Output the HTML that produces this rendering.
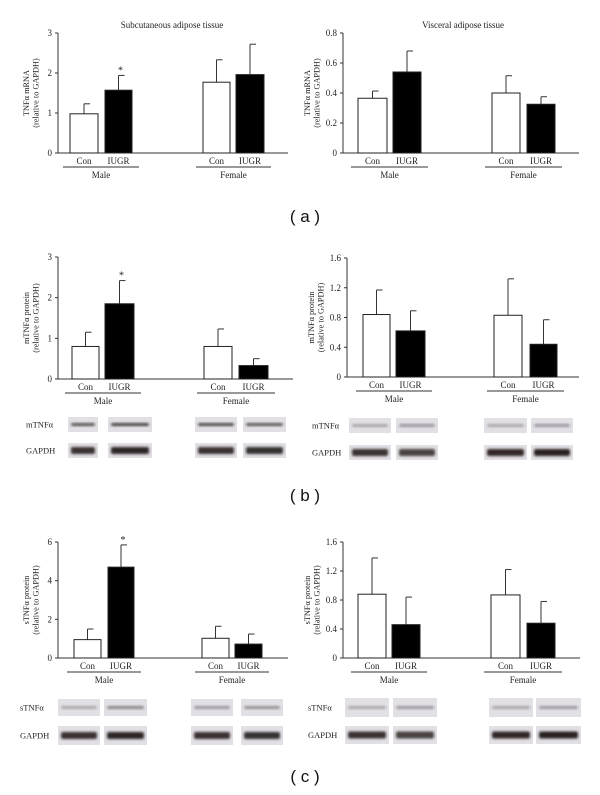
<!DOCTYPE html>
<html><head><meta charset="utf-8">
<style>
body{margin:0;background:#fff;}
svg{display:block;font-family:"Liberation Serif",serif;}
</style></head>
<body>
<svg id="fig" width="600" height="795" viewBox="0 0 600 795" xmlns="http://www.w3.org/2000/svg">
<defs>
<filter id="blur" x="-20%" y="-50%" width="140%" height="200%"><feGaussianBlur stdDeviation="1.2"/></filter>
</defs>
<text x="172" y="28" font-size="9" text-anchor="middle" fill="#222">Subcutaneous adipose tissue</text>
<text x="463" y="28" font-size="9" text-anchor="middle" fill="#222">Visceral adipose tissue</text>
<text x="305" y="222" font-size="17" font-family="Liberation Sans, sans-serif" text-anchor="middle" fill="#111">( a )</text>
<text x="305" y="501" font-size="17" font-family="Liberation Sans, sans-serif" text-anchor="middle" fill="#111">( b )</text>
<text x="305" y="782" font-size="17" font-family="Liberation Sans, sans-serif" text-anchor="middle" fill="#111">( c )</text>
</svg>
<script>
// Data arrays (Con male, IUGR male, Con female, IUGR female)
const categories = ["Con", "IUGR", "Con", "IUGR"];
const groups = ["Male", "Female"];
const aLeftValues = [0.98, 1.57, 1.77, 1.96];
const aLeftErrors = [0.25, 0.37, 0.56, 0.76];
const aRightValues = [0.365, 0.54, 0.40, 0.325];
const aRightErrors = [0.048, 0.14, 0.115, 0.05];
const bLeftValues = [0.80, 1.85, 0.80, 0.33];
const bLeftErrors = [0.35, 0.57, 0.43, 0.17];
const bRightValues = [0.84, 0.62, 0.83, 0.44];
const bRightErrors = [0.33, 0.27, 0.49, 0.33];
const cLeftValues = [0.95, 4.70, 1.02, 0.72];
const cLeftErrors = [0.55, 1.15, 0.62, 0.52];
const cRightValues = [0.88, 0.46, 0.87, 0.48];
const cRightErrors = [0.50, 0.38, 0.35, 0.30];
const ticks3 = [0, 1, 2, 3];
const ticks08 = ["0", "0.2", "0.4", "0.6", "0.8"];
const ticks16 = ["0", "0.4", "0.8", "1.2", "1.6"];
const ticks6 = [0, 2, 4, 6];
const sigLeftA = [false, true, false, false];
const sigLeftB = [false, true, false, false];
const sigLeftC = [false, true, false, false];
const sigNone = [false, false, false, false];

const NS = "http://www.w3.org/2000/svg";
const svg = document.getElementById("fig");
function mk(tag, attrs, parent) {
  const e = document.createElementNS(NS, tag);
  for (const k in attrs) e.setAttribute(k, attrs[k]);
  (parent || svg).appendChild(e);
  return e;
}

function chart(id, cfg, values, errors, ticks, sig, ylab1) {
  const g = mk("g", {});
  
  
  const maxV = parseFloat(ticks[ticks.length - 1]);
  const y = v => cfg.y0 - (v / maxV) * (cfg.y0 - cfg.yTop);
  const ya = mk("line", {x1: cfg.x0, y1: cfg.yTop, x2: cfg.x0, y2: cfg.y0, stroke: "#333", "stroke-width": 1}, g);
  
  
  const xa = mk("line", {x1: cfg.x0, y1: cfg.y0, x2: cfg.x1, y2: cfg.y0, stroke: "#333", "stroke-width": 1}, g);
  
  
  ticks.forEach(t => {
    const v = parseFloat(t);
    mk("line", {x1: cfg.x0 - 3, y1: y(v), x2: cfg.x0, y2: y(v), stroke: "#333"}, g);
    const tl = mk("text", {x: cfg.x0 - 6, y: y(v) + 3, "font-size": 9, "text-anchor": "end", fill: "#222"}, g);
    tl.textContent = t;
    
    
  });
  const off = cfg.titleOff || 29;
  const yt = mk("text", {transform: `translate(${cfg.x0 - off},${(cfg.yTop + cfg.y0) / 2}) rotate(-90)`, "font-size": 8.3, "text-anchor": "middle", fill: "#222"}, g);
  
  
  const s1 = mk("tspan", {x: 0, dy: 0}, yt); s1.textContent = ylab1;
  const s2 = mk("tspan", {x: 0, dy: 9.5}, yt); s2.textContent = "(relative to GAPDH)";
  values.forEach((v, i) => {
    const [bx0, bx1] = cfg.bars[i];
    const w = bx1 - bx0, cx = (bx0 + bx1) / 2;
    const top = y(v), et = y(v + errors[i]);
    const el = mk("line", {x1: cx, y1: top, x2: cx, y2: et, stroke: "#333"}, g);
    
    
    mk("line", {x1: cx, y1: et, x2: cx + 6, y2: et, stroke: "#333"}, g);
    const r = mk("rect", {x: bx0, y: top, width: w, height: cfg.y0 - top, fill: i % 2 ? "#000" : "#fff", stroke: "#222", "stroke-width": 1}, g);
    
    
    if (sig[i]) {
      const st = mk("text", {x: cx + 2, y: et - 2, "font-size": 10, "text-anchor": "middle", fill: "#222"}, g);
      st.textContent = "*";
      
      
    }
    const cl = mk("text", {x: cx, y: cfg.y0 + 11, "font-size": 9, "text-anchor": "middle", fill: "#222"}, g);
    cl.textContent = categories[i];
    
    
  });
  groups.forEach((gn, k) => {
    const a = cfg.bars[2 * k][0] - 7, b = cfg.bars[2 * k + 1][1] + 7;
    const gl = mk("line", {x1: a, y1: cfg.y0 + 14, x2: b, y2: cfg.y0 + 14, stroke: "#333"}, g);
    
    
    const t = mk("text", {x: (a + b) / 2, y: cfg.y0 + 25, "font-size": 9, "text-anchor": "middle", fill: "#222"}, g);
    t.textContent = gn;
    
    
  });
}

function blots(id, lx, label, rows, xs, bands) {
  const g = mk("g", {});
  
  
  const names = [label, "GAPDH"];
  rows.forEach((rw, ri) => {
    const t = mk("text", {x: lx, y: (rw[0] + rw[1]) / 2 + 3, "font-size": 8.5, fill: "#222"}, g);
    t.textContent = names[ri];
    
    
    xs.forEach((xx, ci) => {
      const r = mk("rect", {x: xx[0], y: rw[0], width: xx[1] - xx[0], height: rw[1] - rw[0], fill: "#e2e0e5"}, g);
      
      
      const d = bands[ri][ci];
      const h = ri ? 7 : 3;
      mk("rect", {x: xx[0] + 3, y: (rw[0] + rw[1]) / 2 - h / 2, width: xx[1] - xx[0] - 6, height: h, rx: 2, fill: d, filter: "url(#blur)"}, g);
    });
  });
}

chart("chart-a-left", {x0: 58, x1: 288, yTop: 33, y0: 153, bars: [[70, 98], [105, 132], [203, 230], [236, 264]]}, aLeftValues, aLeftErrors, ticks3, sigLeftA, "TNFα mRNA");
chart("chart-a-right", {x0: 343, x1: 579, yTop: 33, y0: 153, titleOff: 33, bars: [[358, 387], [393, 421], [492, 520], [527, 555]]}, aRightValues, aRightErrors, ticks08, sigNone, "TNFα mRNA");
chart("chart-b-left", {x0: 58, x1: 293, yTop: 257, y0: 379, bars: [[72, 99], [105, 134], [204, 232], [239, 268]]}, bLeftValues, bLeftErrors, ticks3, sigLeftB, "mTNFα protein");
chart("chart-b-right", {x0: 347, x1: 579, yTop: 258, y0: 377, titleOff: 33, bars: [[363, 390], [396, 425], [494, 522], [530, 557]]}, bRightValues, bRightErrors, ticks16, sigNone, "mTNFα protein");
chart("chart-c-left", {x0: 58, x1: 288, yTop: 542, y0: 658, bars: [[74, 101], [108, 134], [202, 229], [235, 262]]}, cLeftValues, cLeftErrors, ticks6, sigLeftC, "sTNFα protein");
chart("chart-c-right", {x0: 343, x1: 580, yTop: 542, y0: 658, titleOff: 33, bars: [[358, 386], [392, 420], [491, 520], [527, 555]]}, cRightValues, cRightErrors, ticks16, sigNone, "sTNFα protein");

blots("blots-b-left", 26, "mTNFα", [[417, 432], [443, 458]], [[68, 98], [108, 152], [195, 237], [243, 286]], [["#5a5350", "#4a4240", "#4f4846", "#5f5855"], ["#3a3230", "#2f2826", "#3a3230", "#353030"]]);
blots("blots-b-right", 312, "mTNFα", [[418, 433], [445, 460]], [[349, 391], [396, 438], [484, 527], [531, 573]], [["#a8a4aa", "#9a969c", "#aaa6ac", "#9c989e"], ["#3a3230", "#4a4240", "#302826", "#2a2422"]]);
blots("blots-c-left", 20, "sTNFα", [[699, 716], [726, 745]], [[58, 100], [104, 147], [191, 233], [241, 283]], [["#aaa6ac", "#8a8488", "#9a969c", "#959096"], ["#3a3230", "#2f2826", "#3a3230", "#353030"]]);
blots("blots-c-right", 308, "sTNFα", [[698, 717], [726, 744]], [[345, 389], [393, 437], [489, 533], [536, 581]], [["#aaa6ac", "#9a969c", "#a8a4aa", "#9c989e"], ["#3a3230", "#4a4240", "#302826", "#2a2422"]]);
</script>
</body></html>
